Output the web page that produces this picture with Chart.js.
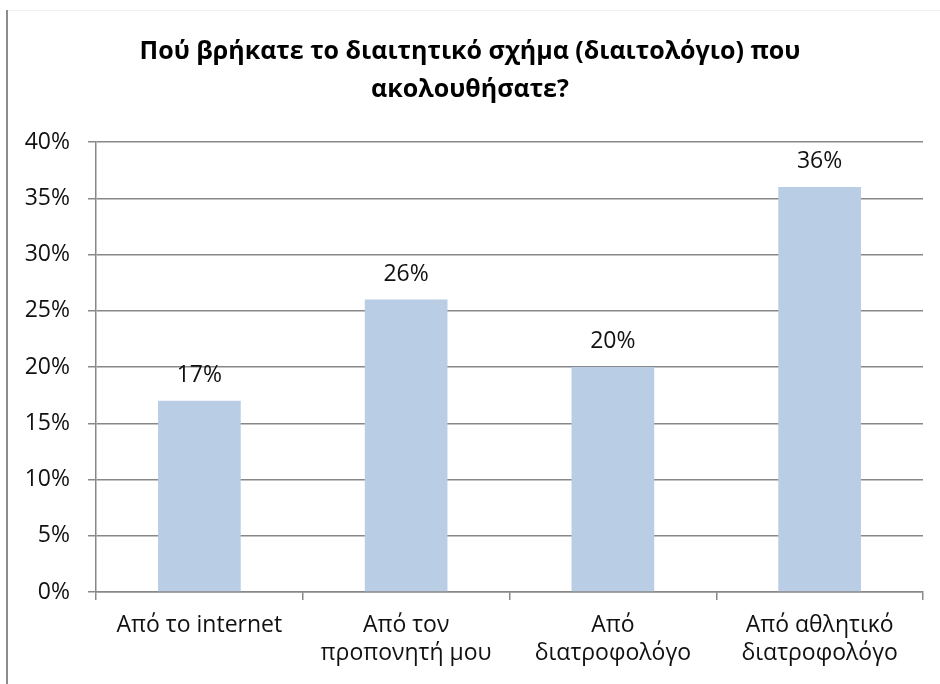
<!DOCTYPE html>
<html>
<head>
<meta charset="utf-8">
<script src="https://cdn.jsdelivr.net/npm/chart.js@4"></script>
<style>
  html, body { margin: 0; padding: 0; background: #fff; }
  #wrap { width: 940px; height: 684px; }
</style>
</head>
<body>
<div id="wrap"><canvas id="c" width="940" height="684"></canvas></div>
<script>
const categories = [
  'Από το internet',
  ['Από τον', 'προπονητή μου'],
  ['Από', 'διατροφολόγο'],
  ['Από αθλητικό', 'διατροφολόγο']
];
const shares = [17, 26, 20, 36];
const yTicks = [0, 5, 10, 15, 20, 25, 30, 35, 40];
const titleLines = ['Πού βρήκατε το διαιτητικό σχήμα (διαιτολόγιο) που', 'ακολουθήσατε?'];

const FONT = '"Open Sans", "Noto Sans", sans-serif';

// frame edge of the chart object
const framePlugin = {
  id: 'frame',
  beforeDraw(chart) {
    const ctx = chart.ctx;
    ctx.save();
    ctx.strokeStyle = '#f0f0f0';
    ctx.lineWidth = 1;
    ctx.beginPath();
    ctx.moveTo(7, 10.5);
    ctx.lineTo(940, 10.5);
    ctx.stroke();
    ctx.strokeStyle = '#8c8c8c';
    ctx.lineWidth = 2;
    ctx.beginPath();
    ctx.moveTo(7, 10);
    ctx.lineTo(7, 684);
    ctx.stroke();
    ctx.restore();
  }
};

// two-line bold heading, centred on the chart object
const headingPlugin = {
  id: 'heading',
  afterDraw(chart) {
    const ctx = chart.ctx;
    ctx.save();
    ctx.font = 'bold 25px ' + FONT;
    ctx.fillStyle = '#000';
    ctx.textAlign = 'center';
    ctx.textBaseline = 'alphabetic';
    titleLines.forEach((line, i) => ctx.fillText(line, 470, 59 + i * 38));
    ctx.restore();
  }
};

// value labels above each bar
const valueLabels = {
  id: 'valueLabels',
  afterDatasetsDraw(chart) {
    const ctx = chart.ctx;
    const meta = chart.getDatasetMeta(0);
    ctx.save();
    ctx.font = '23px ' + FONT;
    ctx.fillStyle = '#111';
    ctx.textAlign = 'center';
    ctx.textBaseline = 'alphabetic';
    meta.data.forEach((bar, i) => {
      ctx.fillText(shares[i] + '%', bar.x, bar.y - 19);
    });
    ctx.restore();
  }
};

new Chart(document.getElementById('c'), {
  type: 'bar',
  data: {
    labels: categories,
    datasets: [{
      data: shares,
      backgroundColor: '#b9cde5',
      borderWidth: 0,
      barPercentage: 0.4,
      categoryPercentage: 1.0
    }]
  },
  options: {
    responsive: false,
    animation: false,
    devicePixelRatio: 1,
    layout: { padding: { left: 0, right: 17, top: 142, bottom: 0 } },
    plugins: {
      legend: { display: false },
      tooltip: { enabled: false },
      title: { display: false }
    },
    scales: {
      x: {
        offset: true,
        grid: {
          offset: true,
          drawOnChartArea: false,
          drawTicks: true,
          tickLength: 8,
          color: '#888',
          lineWidth: 1.5
        },
        border: { display: true, color: '#888', width: 1.5 },
        ticks: {
          color: '#111',
          font: { family: FONT, size: 23, lineHeight: 1.22 },
          padding: 11,
          maxRotation: 0,
          autoSkip: false
        },
        afterFit(scale) { scale.height = 92; }
      },
      y: {
        min: 0,
        max: 40,
        afterBuildTicks(scale) {
          scale.ticks = yTicks.map(v => ({ value: v }));
        },
        grid: {
          color: '#888',
          lineWidth: 1.5,
          drawTicks: true,
          tickLength: 8
        },
        border: { display: true, color: '#888', width: 1.5 },
        ticks: {
          color: '#111',
          font: { family: FONT, size: 23 },
          padding: 18,
          callback: v => v + '%'
        },
        afterFit(scale) { scale.width = 96; }
      }
    }
  },
  plugins: [framePlugin, headingPlugin, valueLabels]
});
</script>
</body>
</html>
